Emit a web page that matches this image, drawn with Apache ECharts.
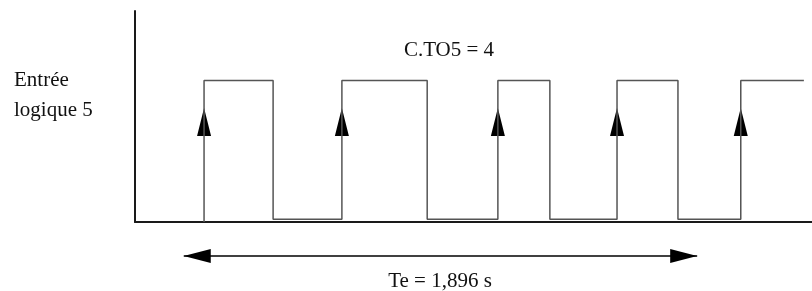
<!DOCTYPE html>
<html>
<head>
<meta charset="utf-8">
<script src="https://cdn.jsdelivr.net/npm/echarts@6/dist/echarts.min.js"></script>
<style>
  html, body { margin: 0; padding: 0; background: #fff; }
  #chart { width: 812px; height: 291px; }
</style>
</head>
<body>
<div id="chart"></div>
<script>
// temps en secondes
const rises = [0.255, 0.764, 1.340, 1.780, 2.237]
const falls = [0.510, 1.079, 1.532, 2.005]
const signalEnd = 2.470
const baseLevel = -0.02
const lowLevel = 0
const highLevel = 1
const arrowLevel = 0.70
const teStart = 0.18
const teValue = 1.896
const teLevel = -0.265

const labelStyle = {
  fontFamily: 'Liberation Serif',
  fontSize: 21,
  fill: '#111'
}

// signal carré construit à partir des fronts
const signal = []
rises.forEach((r, i) => {
  signal.push([r, i === 0 ? baseLevel : lowLevel])
  signal.push([r, highLevel])
  if (i < falls.length) {
    signal.push([falls[i], highLevel])
    signal.push([falls[i], lowLevel])
  }
})
signal.push([signalEnd, highLevel])

const chart = echarts.init(document.getElementById('chart'))
chart.setOption({
  animation: false,
  grid: { left: 135, right: 0, top: 11, bottom: 69 },
  xAxis: {
    type: 'value',
    min: 0,
    max: 2.5,
    axisLine: { show: true, onZero: false, lineStyle: { color: '#1a1a1a', width: 2 } },
    axisTick: { show: false },
    axisLabel: { show: false },
    splitLine: { show: false }
  },
  yAxis: {
    type: 'value',
    min: baseLevel,
    max: 1.5,
    axisLine: { show: true, lineStyle: { color: '#1a1a1a', width: 2 } },
    axisTick: { show: false },
    axisLabel: { show: false },
    splitLine: { show: false }
  },
  series: [
    {
      name: 'Entrée logique 5',
      type: 'line',
      data: signal,
      showSymbol: false,
      symbol: 'none',
      lineStyle: { color: '#555', width: 1.5 }
    },
    {
      name: 'fronts',
      type: 'scatter',
      data: rises.map(r => [r, arrowLevel]),
      symbol: 'triangle',
      symbolSize: [14, 28],
      itemStyle: { color: '#000', opacity: 1 }
    },
    {
      name: 'Te',
      type: 'line',
      clip: false,
      data: [
        { value: [teStart, teLevel], symbolRotate: 90, symbolOffset: [13.5, 0] },
        { value: [teStart + teValue, teLevel], symbolRotate: -90, symbolOffset: [-13.5, 0] }
      ],
      symbol: 'triangle',
      symbolSize: [14, 27],
      showSymbol: true,
      itemStyle: { color: '#000', opacity: 1 },
      lineStyle: { color: '#000', width: 1.5 }
    }
  ],
  graphic: [
    { type: 'text', left: 14, top: 65, style: Object.assign({ text: 'Entrée\nlogique 5', lineHeight: 30 }, labelStyle) },
    { type: 'text', x: 449, y: 50, style: Object.assign({ text: 'C.TO5 = 4', align: 'center', verticalAlign: 'middle' }, labelStyle) },
    { type: 'text', x: 440, y: 281, style: Object.assign({ text: 'Te = 1,896 s', align: 'center', verticalAlign: 'middle' }, labelStyle) }
  ]
})
</script>
</body>
</html>
